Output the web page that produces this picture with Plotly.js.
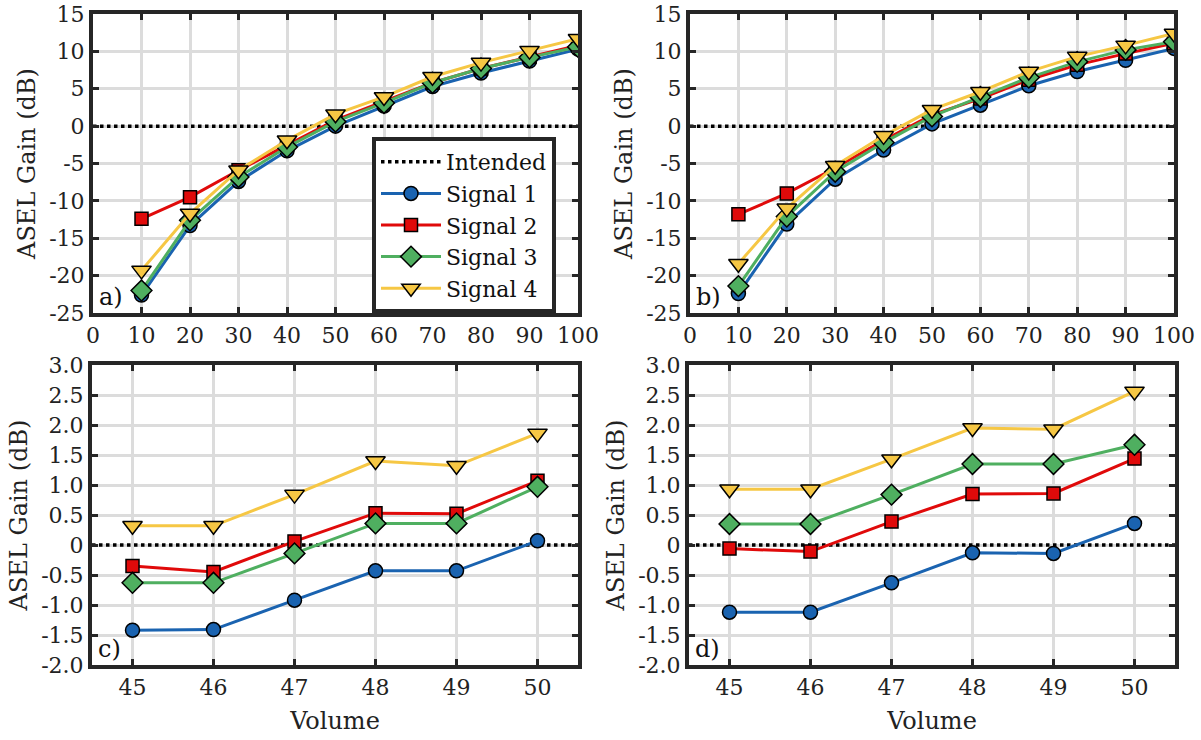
<!DOCTYPE html>
<html>
<head>
<meta charset="utf-8">
<script src="https://cdn.plot.ly/plotly-3.0.1.min.js"></script>
<style>
html,body{margin:0;padding:0;background:#fff;}
#chart{width:1201px;height:740px;}
</style>
</head>
<body>
<div id="chart"></div>
<script>
// ---------- data ----------
const volumeCoarse = [10, 20, 30, 40, 50, 60, 70, 80, 90, 100];
const volumeFine = [45, 46, 47, 48, 49, 50];
const coarseRange = [0, 100];
const fineRange = [44.5, 50.5];
const intendedGain = [0, 0];

const seriesNames = ['Signal 1', 'Signal 2', 'Signal 3', 'Signal 4'];

// panel a
const aSignal1 = [-22.6, -13.3, -7.4, -3.3, 0.0, 2.7, 5.3, 7.1, 8.7, 10.3];
const aSignal2 = [-12.4, -9.5, -5.9, -2.5, 0.8, 3.3, 5.8, 7.7, 9.3, 10.8];
const aSignal3 = [-22.0, -12.6, -6.8, -2.8, 0.6, 3.1, 5.8, 7.7, 9.2, 10.6];
const aSignal4 = [-19.3, -11.7, -5.9, -1.9, 1.6, 3.9, 6.6, 8.5, 10.1, 11.7];
// panel b
const bSignal1 = [-22.4, -13.1, -7.1, -3.2, 0.3, 2.8, 5.4, 7.3, 8.8, 10.4];
const bSignal2 = [-11.8, -9.0, -5.6, -1.9, 1.5, 3.7, 6.2, 8.2, 9.7, 11.1];
const bSignal3 = [-21.4, -12.1, -6.1, -2.2, 1.3, 3.9, 6.5, 8.6, 10.2, 11.3];
const bSignal4 = [-18.4, -11.0, -5.3, -1.3, 2.2, 4.6, 7.3, 9.3, 10.8, 12.4];
// panel c
const cSignal1 = [-1.42, -1.41, -0.92, -0.43, -0.43, 0.07];
const cSignal2 = [-0.35, -0.45, 0.06, 0.53, 0.52, 1.07];
const cSignal3 = [-0.63, -0.63, -0.14, 0.36, 0.36, 0.97];
const cSignal4 = [0.32, 0.32, 0.84, 1.40, 1.32, 1.86];
// panel d
const dSignal1 = [-1.12, -1.12, -0.63, -0.13, -0.14, 0.36];
const dSignal2 = [-0.06, -0.11, 0.39, 0.85, 0.86, 1.44];
const dSignal3 = [0.35, 0.35, 0.84, 1.35, 1.35, 1.67];
const dSignal4 = [0.93, 0.93, 1.43, 1.95, 1.93, 2.56];

const coarseTickVals = [0, 10, 20, 30, 40, 50, 60, 70, 80, 90, 100];
const coarseTickText = ['0', '10', '20', '30', '40', '50', '60', '70', '80', '90', '100'];
const fineTickVals = [45, 46, 47, 48, 49, 50];
const fineTickText = ['45', '46', '47', '48', '49', '50'];
const gainCoarseVals = [-25, -20, -15, -10, -5, 0, 5, 10, 15];
const gainCoarseText = ['-25', '-20', '-15', '-10', '-5', '0', '5', '10', '15'];
const gainFineVals = [-2, -1.5, -1, -0.5, 0, 0.5, 1, 1.5, 2, 2.5, 3];
const gainFineText = ['-2.0', '-1.5', '-1.0', '-0.5', '0', '0.5', '1.0', '1.5', '2.0', '2.5', '3.0'];
const panelLabels = ['a)', 'b)', 'c)', 'd)'];

// ---------- styles ----------
const colors = ['#1a63b0', '#e00a0a', '#4faf60', '#f6c744'];
const symbols = ['circle', 'square', 'diamond', 'triangle-down'];
const msizes = [14, 13, 16, 17];
const FONT = 'DejaVu Serif';
const FRAME = '#262626';

const panels = [
  {x: volumeCoarse, range: coarseRange, data: [aSignal1, aSignal2, aSignal3, aSignal4], xa: 'x', ya: 'y'},
  {x: volumeCoarse, range: coarseRange, data: [bSignal1, bSignal2, bSignal3, bSignal4], xa: 'x2', ya: 'y2'},
  {x: volumeFine, range: fineRange, data: [cSignal1, cSignal2, cSignal3, cSignal4], xa: 'x3', ya: 'y3'},
  {x: volumeFine, range: fineRange, data: [dSignal1, dSignal2, dSignal3, dSignal4], xa: 'x4', ya: 'y4'}
];

const traces = [];
panels.forEach((p, pi) => {
  traces.push({
    x: p.range, y: intendedGain, xaxis: p.xa, yaxis: p.ya,
    type: 'scatter', mode: 'lines', name: 'Intended',
    line: {color: '#000', width: 3.5, dash: 'dot'},
    showlegend: pi === 0, legendrank: 1
  });
});
panels.forEach((p, pi) => {
  p.data.forEach((vals, si) => {
    traces.push({
      x: p.x, y: vals, xaxis: p.xa, yaxis: p.ya,
      type: 'scatter', mode: 'lines+markers', name: seriesNames[si],
      line: {color: colors[si], width: 3},
      marker: {symbol: symbols[si], size: msizes[si], color: colors[si], line: {color: '#000', width: 1.5}},
      showlegend: pi === 0, legendrank: si + 2
    });
  });
});

function xAxis(domain, anchor, range, vals, text, title) {
  const a = {
    domain: domain, anchor: anchor, range: range,
    tickmode: 'array', tickvals: vals, ticktext: text,
    showline: true, linecolor: FRAME, linewidth: 4, mirror: 'allticks',
    ticks: 'inside', ticklen: 6, tickwidth: 3, tickcolor: FRAME,
    showgrid: true, gridcolor: '#dcdcdc', gridwidth: 3, zeroline: false,
    tickfont: {family: FONT, size: 22, color: '#222'}
  };
  if (title) a.title = {text: title, font: {family: FONT, size: 24, color: '#222'}, standoff: 14};
  return a;
}
function yAxis(domain, anchor, range, vals, text) {
  return {
    domain: domain, anchor: anchor, range: range,
    tickmode: 'array', tickvals: vals, ticktext: text,
    showline: true, linecolor: FRAME, linewidth: 4, mirror: 'allticks',
    ticks: 'inside', ticklen: 6, tickwidth: 3, tickcolor: FRAME,
    showgrid: true, gridcolor: '#dcdcdc', gridwidth: 3, zeroline: false,
    tickfont: {family: FONT, size: 22, color: '#222'},
    title: {text: 'ASEL Gain (dB)', font: {family: FONT, size: 24, color: '#222'}, standoff: 8}
  };
}

const topY = [1 - 313 / 740, 1 - 14 / 740];
const botY = [1 - 665 / 740, 1 - 365 / 740];
const layout = {
  width: 1201, height: 740,
  margin: {l: 0, r: 0, t: 0, b: 0},
  paper_bgcolor: '#fff', plot_bgcolor: '#fff',
  font: {family: FONT, color: '#222'},
  showlegend: true,
  xaxis: xAxis([93 / 1201, 578 / 1201], 'y', coarseRange, coarseTickVals, coarseTickText),
  yaxis: yAxis(topY, 'x', [-25, 15], gainCoarseVals, gainCoarseText),
  xaxis2: xAxis([690 / 1201, 1174 / 1201], 'y2', coarseRange, coarseTickVals, coarseTickText),
  yaxis2: yAxis(topY, 'x2', [-25, 15], gainCoarseVals, gainCoarseText),
  xaxis3: xAxis([92 / 1201, 578 / 1201], 'y3', fineRange, fineTickVals, fineTickText, 'Volume'),
  yaxis3: yAxis(botY, 'x3', [-2, 3], gainFineVals, gainFineText),
  xaxis4: xAxis([689 / 1201, 1175 / 1201], 'y4', fineRange, fineTickVals, fineTickText, 'Volume'),
  yaxis4: yAxis(botY, 'x4', [-2, 3], gainFineVals, gainFineText),
  legend: {
    x: 372 / 1201, y: 1 - 137 / 740, xanchor: 'left', yanchor: 'top',
    bgcolor: '#fff', bordercolor: FRAME, borderwidth: 4,
    font: {family: FONT, size: 22, color: '#111'},
    tracegroupgap: 0, itemwidth: 60
  },
  annotations: panelLabels.map((t, i) => ({
    text: t, showarrow: false,
    xref: (i === 0 ? 'x' : 'x' + (i + 1)) + ' domain',
    yref: (i === 0 ? 'y' : 'y' + (i + 1)) + ' domain',
    x: 0.008, y: 0.0, xanchor: 'left', yanchor: 'bottom',
    font: {family: FONT, size: 24, color: '#111'}
  }))
};

Plotly.newPlot('chart', traces, layout, {staticPlot: true, displayModeBar: false});
</script>
</body>
</html>
